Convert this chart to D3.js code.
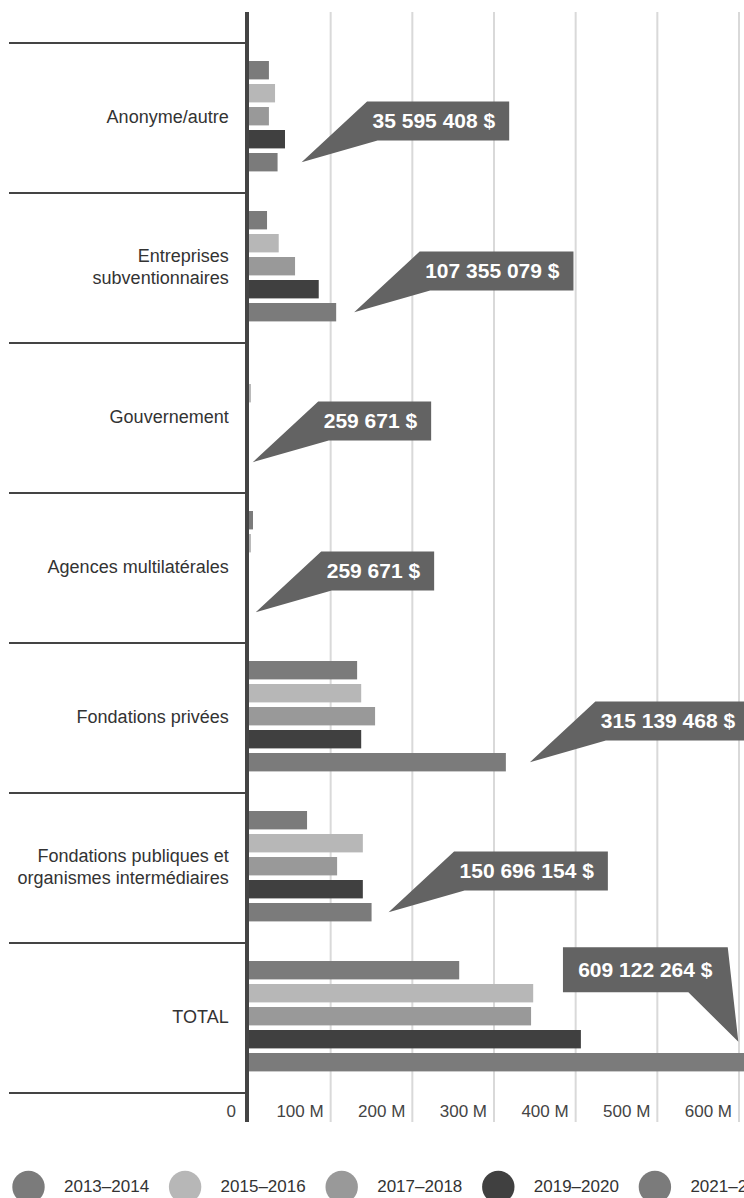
<!DOCTYPE html>
<html><head><meta charset="utf-8">
<script src="https://cdn.jsdelivr.net/npm/d3@7"></script>
<style>
html,body{margin:0;padding:0;background:#fff;overflow:hidden;}
svg{display:block;font-family:"Liberation Sans",Arial,Helvetica,sans-serif;}
</style></head><body>
<svg id="chart" width="744" height="1198"></svg>
<script>
// ---- data (millions $) ----
const categories = ["Anonyme/autre","Entreprises\nsubventionnaires","Gouvernement","Agences multilatérales","Fondations privées","Fondations publiques et\norganismes intermédiaires","TOTAL"];
const seriesNames = ["2013–2014","2015–2016","2017–2018","2019–2020","2021–2022"];
const v2013 = [25, 22.7, 0, 5.5, 133, 71.7, 258];
const v2015 = [32.5, 37, 3, 3, 138, 140, 348.6];
const v2017 = [25, 57, 0, 0, 155, 108.5, 346];
const v2019 = [44.7, 86, 0, 0, 138, 140, 407];
const v2021 = [35.595408, 107.355079, 0.259671, 0.259671, 315.139468, 150.696154, 609.122264];
const tickValues = [0, 100, 200, 300, 400, 500, 600];

// ---- styles / annotation layout ----
const seriesColors = ["#7b7b7b","#b7b7b7","#999999","#404040","#7b7b7b"];
const calloutGap = [24, 18, 4, 7, 24, 17, -7.6];

const seriesValues = [v2013, v2015, v2017, v2019, v2021];
const svg = d3.select("#chart");

const x = d3.scaleLinear().domain([0, 600]).range([248.5, 738.5]);
const y = d3.scaleBand().domain(categories).range([43, 1093]);
const ySub = d3.scaleBand().domain(seriesNames).range([18, 128.4]).paddingInner(0.2);

const plotTop = 12, plotBottom = 1122;

// gridlines + tick labels via axis
const axisG = svg.append("g").attr("transform", `translate(0,${plotBottom})`)
  .call(d3.axisBottom(x).tickValues(tickValues).tickSize(-(plotBottom - plotTop))
    .tickFormat(d => d === 0 ? "0" : `${d} M`));
axisG.select(".domain").remove();
axisG.selectAll(".tick line").attr("stroke", "#d9d9d9").attr("stroke-width", 2)
  .attr("display", d => d === 0 ? "none" : null);
axisG.selectAll(".tick text")
  .attr("text-anchor", "end")
  .attr("x", d => d === 0 ? -13 : -7)
  .attr("y", -5.3).attr("dy", 0)
  .attr("fill", "#444").attr("font-size", 17)
  .attr("font-family", '"Liberation Sans",Arial,sans-serif');

// bars
const rows = [];
categories.forEach((c, i) => seriesNames.forEach((s, j) => rows.push({cat: c, ser: s, j, v: seriesValues[j][i]})));
svg.append("g").selectAll("rect").data(rows).join("rect")
  .attr("x", x(0))
  .attr("y", d => y(d.cat) + ySub(d.ser))
  .attr("width", d => Math.max(0, x(d.v) - x(0)))
  .attr("height", ySub.bandwidth())
  .attr("fill", d => seriesColors[d.j]);

// separators
const seps = categories.map(c => y(c)).concat([y.range()[1]]);
svg.append("g").selectAll("line").data(seps).join("line")
  .attr("x1", 9).attr("x2", 245).attr("y1", d => d).attr("y2", d => d)
  .attr("stroke", "#444").attr("stroke-width", 2);

// axis line
svg.append("line").attr("x1", 247).attr("x2", 247).attr("y1", plotTop).attr("y2", plotBottom)
  .attr("stroke", "#444").attr("stroke-width", 4);

// category labels
const lab = svg.append("g").selectAll("text").data(categories).join("text")
  .attr("text-anchor", "end").attr("font-size", 18).attr("fill", "#333");
lab.each(function(c) {
  const lines = c.split("\n");
  const cy = y(c) + y.bandwidth() / 2;
  d3.select(this).selectAll("tspan").data(lines).join("tspan")
    .attr("x", 228.7)
    .attr("y", (l, i) => cy + 5.3 + (i - (lines.length - 1) / 2) * 21.7)
    .text(l => l);
});

// callouts
const loc = d3.formatLocale({decimal: ",", thousands: " ", grouping: [3], currency: ["", " $"]});
const fmt = loc.format("$,d");
const lastSer = seriesNames[seriesNames.length - 1];
const cg = svg.append("g");
categories.forEach((c, i) => {
  const g = cg.append("g");
  const isTotal = c === "TOTAL";
  const tx = x(v2021[i]) + calloutGap[i];
  const barCy = y(c) + ySub(lastSer) + ySub.bandwidth() / 2;
  const poly = g.append("polygon").attr("fill", "#636363");
  const t = g.append("text").text(fmt(Math.round(v2021[i] * 1e6)))
    .attr("fill", "#fff").attr("font-weight", "bold").attr("font-size", 21).attr("dy", "0.35em");
  const tw = t.node().getComputedTextLength();
  if (!isTotal) {
    const ty = barCy;
    const L = tx + 65.5, B = ty - 21.7, T = B - 39, Wd = tw + 19.5;
    poly.attr("points", [[tx, ty], [L, T], [L + Wd, T], [L + Wd, B], [L + 10.5, B]].map(p => p.join(",")).join(" "));
    t.attr("x", L + 5.5).attr("y", (T + B) / 2);
  } else {
    const ty = barCy - 20.5;
    const R = tx - 10.6, B = ty - 49.4, T = B - 45, Wd = tw + 30.5, L = R - Wd;
    poly.attr("points", [[L, T], [R, T], [tx, ty], [R - 39.4, B], [L, B]].map(p => p.join(",")).join(" "));
    t.attr("x", (L + R) / 2).attr("text-anchor", "middle").attr("y", (T + B) / 2);
  }
});

// legend
const leg = svg.append("g").selectAll("g").data(seriesNames).join("g")
  .attr("transform", (d, i) => `translate(${28.5 + i * 156.6},1187)`);
leg.append("circle").attr("r", 16.2).attr("fill", (d, i) => seriesColors[i]);
leg.append("text").attr("x", 35.5).attr("y", 4.7).attr("font-size", 17).attr("fill", "#333").text(d => d);
</script>
</body></html>
